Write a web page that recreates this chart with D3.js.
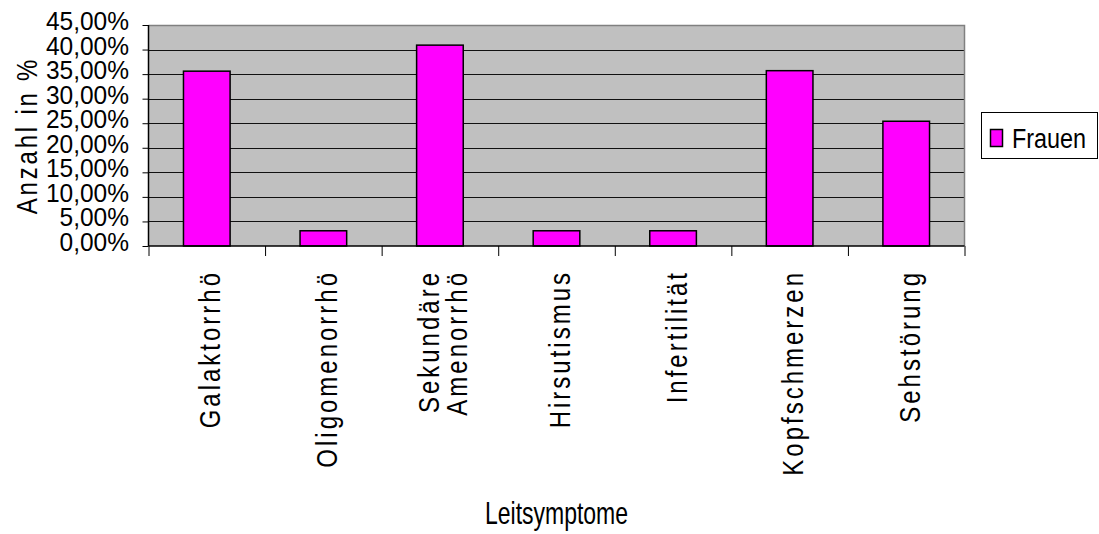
<!DOCTYPE html>
<html>
<head>
<meta charset="utf-8">
<script src="https://cdn.jsdelivr.net/npm/d3@7"></script>
<style>
  html, body { margin: 0; padding: 0; background: #fff; }
  svg { display: block; font-family: "Liberation Sans", Arial, sans-serif; }
</style>
</head>
<body>
<svg id="chart" width="1099" height="534"></svg>
<script>
// Leitsymptome bei Frauen (Anteil in %)
const categories = ["Galaktorrhö", "Oligomenorrhö", "Sekundäre\nAmenorrhö", "Hirsutismus", "Infertilität", "Kopfschmerzen", "Sehstörung"];
const frauen = [35.6, 3.1, 40.9, 3.1, 3.1, 35.7, 25.4];
const yTickValues = [0, 5, 10, 15, 20, 25, 30, 35, 40, 45];
const seriesName = "Frauen";
const xTitle = "Leitsymptome";
const yTitle = "Anzahl in %";

const fmtPct = v => v.toFixed(2).replace(".", ",") + "%";

const svg = d3.select("#chart");
const plot = { left: 148.5, right: 964.5, top: 25, bottom: 246 };

const x = d3.scaleBand()
  .domain(categories)
  .range([plot.left, plot.right])
  .paddingInner(0.6)
  .paddingOuter(0.3);

const y = d3.scaleLinear().domain([0, 45]).range([plot.bottom, plot.top]);

// Plot background
svg.append("rect")
  .attr("x", plot.left).attr("y", plot.top)
  .attr("width", plot.right - plot.left).attr("height", plot.bottom - plot.top)
  .attr("fill", "#c0c0c0");

// Horizontal gridlines
svg.append("g")
  .selectAll("line")
  .data(yTickValues.filter(v => v > 0 && v < 45))
  .join("line")
  .attr("x1", plot.left).attr("x2", plot.right)
  .attr("y1", d => Math.round(y(d)) + 0.5).attr("y2", d => Math.round(y(d)) + 0.5)
  .attr("stroke", "#111").attr("stroke-width", 1);

// Plot frame: top and right edges
svg.append("path")
  .attr("d", `M${plot.left},${plot.top + 0.5}H${plot.right}V${plot.bottom}`)
  .attr("fill", "none").attr("stroke", "#808080").attr("stroke-width", 1.5);

// Bars
svg.append("g")
  .selectAll("rect")
  .data(categories.map((c, i) => ({ c, v: frauen[i] })))
  .join("rect")
  .attr("x", d => x(d.c))
  .attr("y", d => y(d.v))
  .attr("width", x.bandwidth())
  .attr("height", d => y(0) - y(d.v))
  .attr("fill", "#ff00ff")
  .attr("stroke", "#000")
  .attr("stroke-width", 1.5);

// Y axis
const yAxis = svg.append("g")
  .attr("transform", `translate(${plot.left},0)`)
  .call(d3.axisLeft(y).tickValues(yTickValues).tickFormat(fmtPct).tickSize(6).tickPadding(0));
yAxis.select(".domain").attr("stroke", "#000").attr("stroke-width", 1.5).attr("d", `M0,${plot.top}V${plot.bottom}`);
yAxis.selectAll(".tick line").attr("stroke", "#000");
yAxis.selectAll(".tick text")
  .attr("x", null)
  .attr("dy", null)
  .attr("transform", "translate(-19.5,4.5) scale(1,1.06)")
  .attr("fill", "#000")
  .attr("font-size", 24.5)
  .attr("font-family", "'Liberation Sans', Arial, sans-serif")
  .attr("text-anchor", "end");

// X axis with ticks on the category boundaries
const xEdges = d3.scaleLinear().domain([0, categories.length]).range([plot.left, plot.right]);
const xAxis = svg.append("g")
  .attr("transform", `translate(0,${plot.bottom})`)
  .call(d3.axisBottom(xEdges).tickValues(d3.range(categories.length + 1)).tickFormat("").tickSize(10));
xAxis.select(".domain").attr("stroke", "#000").attr("stroke-width", 1.5).attr("d", `M${plot.left},0H${plot.right}`);
xAxis.selectAll(".tick line").attr("stroke", "#000");

// Rotated category labels (spaced, slightly tall glyphs)
const lineGap = 28;
const labels = svg.append("g").attr("font-size", 24).attr("letter-spacing", 3).attr("fill", "#000");
categories.forEach(c => {
  const lines = c.split("\n");
  const cx = x(c) + x.bandwidth() / 2;
  lines.forEach((ln, i) => {
    const bx = cx + 13.5 + (i - (lines.length - 1) / 2) * lineGap;
    labels.append("text")
      .attr("transform", `translate(${bx},270) rotate(-90) scale(1,1.2)`)
      .attr("text-anchor", "end")
      .text(ln);
  });
});

// Axis titles
svg.append("text")
  .attr("transform", `translate(${(plot.left + plot.right) / 2},524) scale(1,1.4)`)
  .attr("text-anchor", "middle")
  .attr("font-size", 23)
  .attr("fill", "#000")
  .text(xTitle);

svg.append("text")
  .attr("transform", "translate(36.5,135.5) rotate(-90) scale(1,1.24)")
  .attr("text-anchor", "middle")
  .attr("font-size", 24)
  .attr("letter-spacing", 2.8)
  .attr("fill", "#000")
  .text(yTitle);

// Legend
const legend = svg.append("g");
legend.append("rect")
  .attr("x", 981.5).attr("y", 112.5).attr("width", 116).attr("height", 46)
  .attr("fill", "#fff").attr("stroke", "#000").attr("stroke-width", 1);
legend.append("rect")
  .attr("x", 990.5).attr("y", 129.5).attr("width", 12).attr("height", 17)
  .attr("fill", "#ff00ff").attr("stroke", "#000").attr("stroke-width", 1.5);
legend.append("text")
  .attr("transform", "translate(1012,148) scale(1,1.15)")
  .attr("font-size", 23.4)
  .attr("fill", "#000")
  .text(seriesName);
</script>
</body>
</html>
